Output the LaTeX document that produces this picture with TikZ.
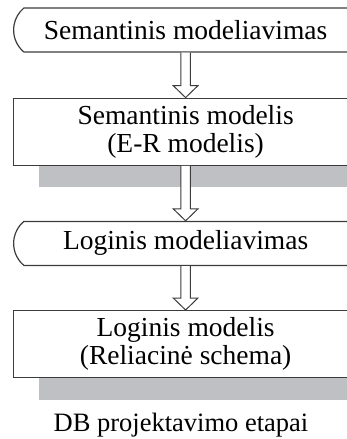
\documentclass[tikz,border=0pt]{standalone}
\usepackage{fontspec}
\setmainfont{Liberation Serif}
\usetikzlibrary{positioning,calc,shapes.misc,shadows}
\definecolor{edgegray}{RGB}{60,60,60}
\definecolor{shadowgray}{RGB}{191,192,196}
\tikzset{
  stage/.style={draw=edgegray, line width=0.6pt, fill=white, rounded rectangle,
    rounded rectangle arc length=100, minimum width=172pt, minimum height=22pt,
    inner sep=0pt, font=\fontsize{13.75}{14}\selectfont},
  result/.style={draw=edgegray, line width=0.6pt, fill=white, rectangle,
    minimum width=172pt, minimum height=33.5pt, inner sep=0pt, align=center,
    font=\fontsize{13.75}{14}\selectfont,
    general shadow={fill=shadowgray, draw=none, shadow xshift=12.5pt, shadow yshift=-11pt}},
  fatarrow/.style={draw=edgegray, line width=0.5pt, fill=white, line join=miter}
}
\newcommand\stagearrow[2]{%
  \draw[fatarrow] ($(#1.south)+(-2.4pt,0)$) -- ($(#2.north)+(-2.4pt,6pt)$)
    -- ($(#2.north)+(-6.2pt,6pt)$) -- (#2.north) -- ($(#2.north)+(6.2pt,6pt)$)
    -- ($(#2.north)+(2.4pt,6pt)$) -- ($(#1.south)+(2.4pt,0)$);}
\begin{document}
\begin{tikzpicture}
  \useasboundingbox (0,0) rectangle (173.5pt,-219.5pt);
  \clip (0,0) rectangle (173.5pt,-219.5pt);
  \node[stage, anchor=west] (sem) at (6.5pt,-15pt) {Semantinis modeliavimas};
  \node[result, below=22.5pt of sem] (semmod) {Semantinis modelis\\(E-R modelis)};
  \node[stage, below=27.5pt of semmod] (log) {Loginis modeliavimas};
  \node[result, below=22pt of log] (logmod) {Loginis modelis\\(Reliacinė schema)};
  \node[font=\fontsize{13.25}{14}\selectfont, anchor=base] (caption) at (90.5pt,-215.5pt) {DB projektavimo etapai};
  \stagearrow{sem}{semmod}
  \stagearrow{semmod}{log}
  \stagearrow{log}{logmod}
\end{tikzpicture}
\end{document}
